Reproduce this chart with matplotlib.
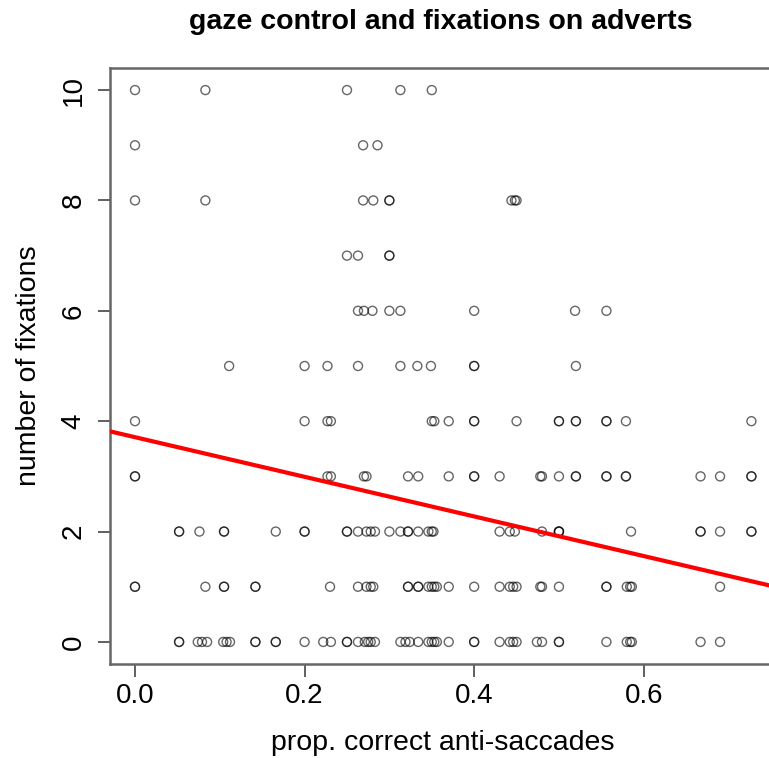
import numpy as np
import matplotlib
matplotlib.use('Agg')
from matplotlib import pyplot as plt

plt.rcParams['font.family'] = ['Liberation Sans', 'DejaVu Sans']

# x values (prop. correct anti-saccades) for each number of fixations
fix_10 = [0.0, 0.083, 0.25, 0.313, 0.35]
fix_9 = [0.0, 0.269, 0.286]
fix_8 = [0.0, 0.083, 0.269, 0.281, 0.30, 0.30, 0.444, 0.448, 0.45]
fix_7 = [0.25, 0.263, 0.30, 0.30]
fix_6 = [0.263, 0.27, 0.28, 0.30, 0.313, 0.40, 0.519, 0.556]
fix_5 = [0.111, 0.20, 0.227, 0.263, 0.313, 0.333, 0.349, 0.40, 0.40, 0.52]
fix_4 = [0.0, 0.20, 0.227, 0.231, 0.35, 0.353, 0.37, 0.40, 0.40, 0.45,
         0.50, 0.50, 0.52, 0.52, 0.556, 0.556, 0.579, 0.727]
fix_3 = [0.0, 0.0, 0.227, 0.231, 0.27, 0.273, 0.322, 0.334, 0.37, 0.40, 0.40,
         0.43, 0.478, 0.48, 0.50, 0.52, 0.52, 0.556, 0.556, 0.579, 0.579,
         0.667, 0.69, 0.727, 0.727]
fix_2 = [0.052, 0.052, 0.076, 0.105, 0.105, 0.166, 0.20, 0.20, 0.25, 0.25,
         0.263, 0.273, 0.278, 0.283, 0.30, 0.313, 0.322, 0.322, 0.334, 0.346,
         0.35, 0.352, 0.43, 0.442, 0.448, 0.48, 0.50, 0.50, 0.50, 0.585,
         0.667, 0.667, 0.69, 0.727, 0.727]
fix_1 = [0.0, 0.0, 0.083, 0.105, 0.105, 0.142, 0.142, 0.23, 0.263, 0.273,
         0.278, 0.281, 0.322, 0.322, 0.334, 0.334, 0.346, 0.35, 0.353, 0.356,
         0.37, 0.40, 0.43, 0.442, 0.446, 0.45, 0.478, 0.48, 0.50, 0.556,
         0.556, 0.58, 0.584, 0.586, 0.69]
fix_0 = [0.052, 0.052, 0.074, 0.079, 0.085, 0.104, 0.108, 0.112, 0.142,
         0.142, 0.166, 0.166, 0.20, 0.222, 0.231, 0.25, 0.25, 0.263, 0.271,
         0.275, 0.278, 0.283, 0.313, 0.319, 0.324, 0.334, 0.346, 0.35, 0.353,
         0.356, 0.37, 0.40, 0.40, 0.43, 0.442, 0.446, 0.45, 0.474, 0.48,
         0.50, 0.50, 0.556, 0.58, 0.584, 0.586, 0.667, 0.69]
levels = [10, 9, 8, 7, 6, 5, 4, 3, 2, 1, 0]
groups = [fix_10, fix_9, fix_8, fix_7, fix_6, fix_5, fix_4, fix_3, fix_2, fix_1, fix_0]

# fitted regression line
intercept = 3.71
slope = -3.59

x = np.concatenate([np.array(g) for g in groups])
y = np.concatenate([np.full(len(g), lv) for g, lv in zip(groups, levels)])

fig = plt.figure(figsize=(7.69, 7.58), dpi=100)
ax = fig.add_axes([110/769, 94/758, 666/769, 596/758])

ax.scatter(x, y, s=42, facecolors='none', edgecolors='black',
           linewidths=1.0, alpha=0.6, zorder=2)

xl = np.array([-0.0295, 0.756])
ax.plot(xl, intercept + slope*xl, color='#ff0000', lw=3, zorder=3, solid_capstyle='butt')

ax.set_xlim(-0.0295, 0.756)
ax.set_ylim(-0.4, 10.4)
ax.set_xticks([0.0, 0.2, 0.4, 0.6])
ax.set_xticklabels(['0.0', '0.2', '0.4', '0.6'])
ax.set_yticks([0, 2, 4, 6, 8, 10])
ax.set_yticklabels(['0', '2', '4', '6', '8', '10'], rotation=90, va='center')
ax.tick_params(length=9, width=1.2, color='#444444', labelsize=20)
ax.tick_params(axis='x', pad=5)
ax.tick_params(axis='y', pad=8)
for sp in ax.spines.values():
    sp.set_color('#666666')
    sp.set_linewidth(1.8)

ax.set_xlabel('prop. correct anti-saccades', fontsize=20.5, labelpad=15)
ax.set_ylabel('number of fixations', fontsize=20.5, labelpad=13)
fig.text(441/769, 1 - 22/758, 'gaze control and fixations on adverts',
         ha='center', va='center', fontsize=20.5, fontweight='bold')

fig.savefig('out.png', dpi=100)
